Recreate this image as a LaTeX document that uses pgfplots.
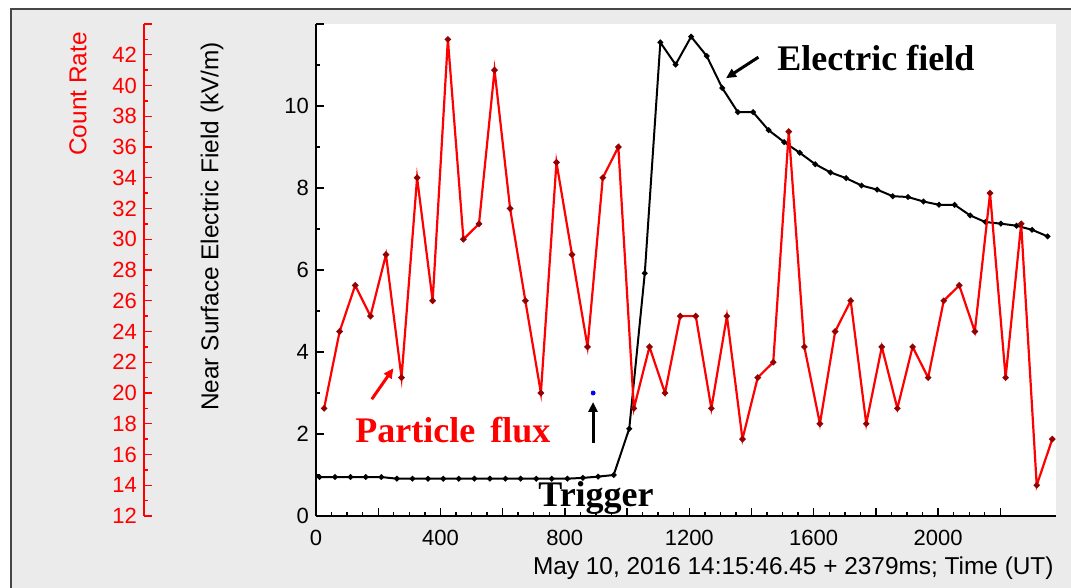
\documentclass[border=0pt]{standalone}
\usepackage{fontspec}
\setmainfont{Liberation Sans}
\newfontfamily\annfont{Liberation Serif}
\usepackage{pgfplots}
\usepackage{pgfplotstable}
\pgfplotsset{compat=1.18}
\usetikzlibrary{arrows.meta}
\definecolor{panelgray}{RGB}{235,235,235}
\definecolor{framegray}{RGB}{70,70,70}
\definecolor{markred}{RGB}{150,0,0}

% near surface electric field (kV/m)
\pgfplotstableread{
t E
11 0.95
61 0.95
111 0.95
160 0.95
210 0.95
260 0.91
310 0.91
360 0.91
409 0.91
459 0.91
509 0.91
559 0.91
609 0.91
658 0.91
708 0.91
758 0.91
808 0.91
858 0.93
907 0.96
957 1.00
1007 2.13
1057 5.92
1107 11.55
1156 11.01
1206 11.69
1256 11.22
1306 10.44
1356 9.85
1405 9.85
1455 9.41
1505 9.12
1555 8.86
1605 8.58
1654 8.38
1704 8.24
1754 8.06
1804 7.96
1854 7.80
1903 7.78
1953 7.67
2003 7.59
2053 7.59
2103 7.33
2152 7.17
2202 7.13
2252 7.08
2302 6.98
2352 6.82
}\fieldtable

% particle count rate
\pgfplotstableread{
t C
26 19
76 24
126 27
175 25
225 29
275 21
325 34
375 26
424 43
474 30
524 31
574 41
624 32
673 26
723 20
773 35
823 29
873 23
922 34
972 36
1022 19
1072 23
1122 20
1171 25
1221 25
1271 19
1321 25
1371 17
1420 21
1470 22
1520 37
1570 23
1620 18
1669 24
1719 26
1769 18
1819 23
1869 19
1918 23
1968 21
2018 26
2068 27
2118 24
2167 33
2217 21
2267 31
2317 14
2367 17
}\counttable

\begin{document}
\begin{tikzpicture}
\useasboundingbox (0,0) rectangle (535.5pt,294pt);
\fill[panelgray] (5.35pt,0) rectangle (535.5pt,289.4pt);
\draw[framegray, line width=0.8pt] (5.35pt,0) -- (5.35pt,289.4pt) -- (535.5pt,289.4pt);

\pgfplotsset{
  base/.style={
    at={(158pt,36pt)}, anchor=south west,
    scale only axis, width=370pt, height=246pt,
    xmin=0, xmax=2379, enlargelimits=false,
    tick align=inside,
    major tick length=3.8pt, minor tick length=2.1pt,
    tick label style={font=\fontsize{11}{13}\selectfont},
    /pgf/number format/assume math mode=true,
  },
}

\begin{axis}[base,
  ymin=0, ymax=12,
  axis x line*=bottom, axis y line*=left,
  axis line style={line width=1.2pt, -},
  axis background/.style={fill=white},
  xtick={0,200,...,2200},
  xticklabels={0,,400,,800,,1200,,1600,,2000,},
  minor x tick num=3,
  ytick={0,2,...,12},
  yticklabels={0,2,4,6,8,10,{}},
  minor y tick num=1,
  xticklabel style={yshift=-3.5pt},
  tick style={black, line width=0.7pt},
]
\addplot[black, line width=1pt, mark=*, mark size=0.85pt] table[x=t, y=E] {\fieldtable};
\addplot[only marks, blue, mark=*, mark size=1pt] coordinates {(891,3.0)};
\end{axis}

\begin{axis}[base,
  ymin=12, ymax=44,
  axis x line=none, axis y line*=left,
  axis y line shift=86pt,
  axis line style={red, line width=1.2pt, -},
  xtick=\empty,
  ytick={12,14,...,44},
  yticklabels={12,14,16,18,20,22,24,26,28,30,32,34,36,38,40,42,{}},
  minor y tick num=1,
  yticklabel style={red},
  tick style={red, line width=0.7pt},
]
\addplot[red, line width=1.1pt, mark=*, mark size=0.95pt,
  mark options={fill=markred, draw=markred}] table[x=t, y=C] {\counttable};
\end{axis}

% axis titles
\node[rotate=90, font=\fontsize{12.2}{14}\selectfont] at (106pt,180.8pt)
  {Near Surface Electric Field (kV/m)};
\node[rotate=90, red, font=\fontsize{12.2}{14}\selectfont] at (39pt,247pt)
  {Count Rate};
\node[anchor=east, inner sep=0pt, font=\fontsize{12.2}{14}\selectfont] at (527pt,10pt)
  {May 10, 2016 14:15:46.45 + 2379ms; Time (UT)};

% annotations
\node[anchor=base west, inner sep=0pt, font=\annfont\bfseries\fontsize{18}{20}\selectfont]
  at (388.5pt,258.5pt) {Electric field};
\node[anchor=base west, inner sep=0pt, red, font=\annfont\bfseries\fontsize{18}{20}\selectfont]
  at (177.5pt,72.6pt) {Particle\hspace{0.42em}flux};
\node[anchor=base west, inner sep=0pt, font=\annfont\bfseries\fontsize{18}{20}\selectfont]
  at (269pt,40.8pt) {Trigger};

\draw[line width=1.5pt, -{Triangle[length=5pt, width=4.5pt]}]
  (296.5pt,72.5pt) -- (296.5pt,93pt);
\draw[red, line width=1.5pt, -{Triangle[length=5pt, width=4.5pt]}]
  (185.9pt,94.4pt) -- (196.7pt,109.9pt);
\draw[line width=1.5pt, -{Triangle[length=5pt, width=4.5pt]}]
  (379.2pt,265.4pt) -- (363pt,254.9pt);
\end{tikzpicture}
\end{document}
